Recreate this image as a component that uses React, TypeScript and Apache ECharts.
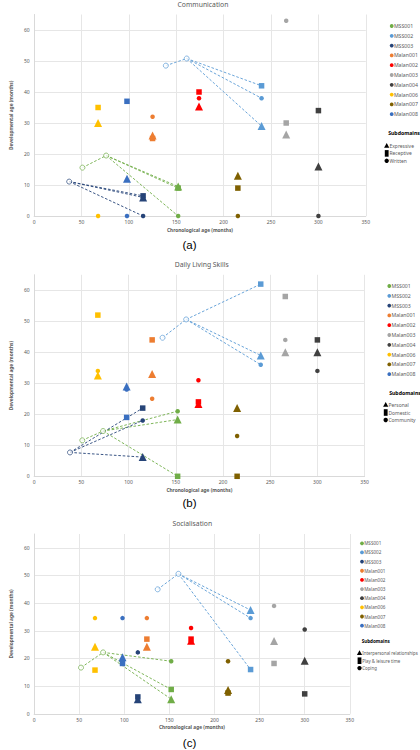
import React, { useEffect, useRef } from 'react';
import * as echarts from 'echarts';

// ---------- data ----------
const participants = ['MSS001', 'MSS002', 'MSS003', 'Malan001', 'Malan002', 'Malan003', 'Malan004', 'Malan006', 'Malan007', 'Malan008'];
const chronoAge = [152, 240, 115, 125, 174, 266, 300, 67.5, 215, 98];

const panelTitles = ['Communication', 'Daily Living Skills', 'Socialisation'];
const panelTags = ['(a)', '(b)', '(c)'];
const subdomainNames = [
  ['Expressive', 'Receptive', 'Written'],
  ['Personal', 'Domestic', 'Community'],
  ['Interpersonal relationships', 'Play & leisure time', 'Coping'],
];

// Communication
const commExpressive = [9.5, 29, 6, 26, 35.3, 26.3, 16, 30, 13, 12];
const commReceptive = [9, 42, 6.5, 25, 40, 30, 34, 35, 9, 37];
const commWritten = [0, 38, 0, 32, 38, 63, 0, 0, 0, 0];

// Daily Living Skills
const dlsPersonal = [18.3, 39, 6.2, 33, 23.3, 40, 40, 32.5, 22, 29];
const dlsDomestic = [0, 62, 22, 44, 24, 58, 44, 52, 0, 19];
const dlsCommunity = [21, 36, 18, 25, 31, 44, 34, 34, 13, 28];

// Socialisation
const socInterpersonal = [5.3, 37.5, 5.3, 24.2, 26.4, 26.3, 19.2, 24.2, 8.6, 20.4];
const socPlay = [8.8, 16, 6.1, 27, 27, 18.2, 7.2, 15.8, 7.5, 18.2];
const socCoping = [19, 34.6, 22.2, 34.6, 31, 39, 30.5, 34.6, 19, 34.6];

// Earlier assessments (open circles) for tracked participants
const trackedParticipants = ['MSS001', 'MSS002', 'MSS003'];
const commPrior = [[[51, 15.6], [76, 19.5]], [[139, 48.5], [161, 50.8]], [[37, 11.1]]];
const dlsPrior = [[[51, 11.6], [73, 14.6]], [[136, 44.7], [161, 50.6]], [[38, 7.7]]];
const socPrior = [[[52, 16.7], [76.5, 22.2]], [[137, 45], [160, 50.6]], []];

const xTicksMax = 350;
const yTicksMax = 65;

// ---------- styling ----------
const participantColors = ['#70AD47', '#5B9BD5', '#264478', '#ED7D31', '#FF0000', '#A5A5A5', '#404040', '#FFC000', '#7F6000', '#3A6FC0'];
const FONT = '"Noto Sans", "Open Sans", sans-serif';
const GRAY = '#595959';

const panelValues = [
  [commExpressive, commReceptive, commWritten],
  [dlsPersonal, dlsDomestic, dlsCommunity],
  [socInterpersonal, socPlay, socCoping],
];
const panelPrior = [commPrior, dlsPrior, socPrior];

const layout = [
  { left: 17.3, top: 14.5, width: 348.5, height: 201.5, titleX: 203, titleY: 4.5, tagX: 189.5, tagY: 245, legX: 391.7, legY: 26, legGap: 9.8, legFont: 5.2, subHeadX: 404, subHeadY: 133, subX: 386.7, subY: 146, subGap: 7.4, yNameGap: 12.4, xNameGap: 11.4 },
  { left: 17.3, top: 274.8, width: 347.3, height: 201.5, titleX: 201.7, titleY: 264, tagX: 189.5, tagY: 503, legX: 389.3, legY: 286, legGap: 9.8, legFont: 5.2, subHeadX: 405, subHeadY: 392.7, subX: 385.7, subY: 405, subGap: 7.5, yNameGap: 12.4, xNameGap: 11.2 },
  { left: 15.3, top: 534, width: 334.5, height: 179.8, titleX: 192.3, titleY: 523, tagX: 189.5, tagY: 743, legX: 362, legY: 543.3, legGap: 9.15, legFont: 4.6, subHeadX: 375.7, subHeadY: 641, subX: 359.5, subY: 653.3, subGap: 7.4, yNameGap: 10.4, xNameGap: 10.6 },
];

const symbolDefs = [
  { symbol: 'triangle', size: 8 },
  { symbol: 'rect', size: 5.5 },
  { symbol: 'circle', size: 4.5 },
];
const drawOrder = [1, 2, 0];

function buildOption() {
  const grid: any[] = [];
  const xAxis: any[] = [];
  const yAxis: any[] = [];
  const series: any[] = [];
  const graphic: any[] = [];

  layout.forEach((L, p) => {
    grid.push({ left: L.left, top: L.top, width: L.width, height: L.height, containLabel: false });
    xAxis.push({
      gridIndex: p, type: 'value', min: 0, max: xTicksMax, interval: 50,
      axisLine: { show: true, onZero: false, lineStyle: { color: '#D9D9D9', width: 1 } },
      axisTick: { show: false },
      axisLabel: { fontSize: 5, color: GRAY, margin: 3.5, fontFamily: FONT },
      splitLine: { show: true, lineStyle: { color: '#E6E6E6', width: 1 } },
      name: 'Chronological age (months)', nameLocation: 'middle', nameGap: L.xNameGap,
      nameTextStyle: { fontSize: 4.8, fontWeight: 'bold', color: GRAY, fontFamily: FONT },
    });
    yAxis.push({
      gridIndex: p, type: 'value', min: 0, max: yTicksMax, interval: 10,
      axisLine: { show: true, lineStyle: { color: '#D9D9D9', width: 1 } },
      axisTick: { show: false },
      axisLabel: { fontSize: 5, color: GRAY, margin: 4.5, showMaxLabel: false, fontFamily: FONT },
      splitLine: { show: true, showMaxLine: false, lineStyle: { color: '#E6E6E6', width: 1 } },
      name: 'Developmental age (months)', nameLocation: 'middle', nameGap: L.yNameGap,
      nameTextStyle: { fontSize: 4.8, fontWeight: 'bold', color: GRAY, fontFamily: FONT },
    });

    // dashed trajectories
    const vals = panelValues[p];
    const prior = panelPrior[p];
    trackedParticipants.forEach((name, t) => {
      const i = participants.indexOf(name);
      const pts = prior[t];
      if (!pts.length) return;
      const color = participantColors[i];
      const segs: number[][][] = [];
      for (let k = 0; k + 1 < pts.length; k++) segs.push([pts[k], pts[k + 1]]);
      const last = pts[pts.length - 1];
      vals.forEach((arr) => segs.push([last, [chronoAge[i], arr[i]]]));
      segs.forEach((seg, s) => {
        series.push({
          name: `${name}-trend-${p}-${s}`, type: 'line', xAxisIndex: p, yAxisIndex: p,
          data: seg, symbol: 'none', silent: true, z: 1,
          lineStyle: { color, width: 1, type: [2.6, 1.8], opacity: 0.9 },
        });
      });
      series.push({
        name: `${name}-prior-${p}`, type: 'scatter', xAxisIndex: p, yAxisIndex: p,
        data: pts, symbol: 'circle', symbolSize: 5, silent: true, z: 3,
        itemStyle: { color: '#FFFFFF', borderColor: color, borderWidth: 0.9 },
      });
    });

    // current assessments
    participants.forEach((name, i) => {
      const data = drawOrder.map((k) => ({
        value: [chronoAge[i], vals[k][i]],
        symbol: symbolDefs[k].symbol,
        symbolSize: symbolDefs[k].size,
      }));
      series.push({
        name, type: 'scatter', xAxisIndex: p, yAxisIndex: p, data, z: 4,
        itemStyle: { color: participantColors[i], opacity: 1 },
        emphasis: { disabled: true },
      });
    });

    // titles & tags
    graphic.push({
      type: 'text', x: L.titleX, y: L.titleY, silent: true,
      style: { text: panelTitles[p], fill: GRAY, font: `6.8px ${FONT}`, align: 'center', verticalAlign: 'middle' },
    });
    graphic.push({
      type: 'text', x: L.tagX, y: L.tagY, silent: true,
      style: { text: panelTags[p], fill: '#000', font: `11.5px "Liberation Sans", Arial, sans-serif`, align: 'center', verticalAlign: 'middle' },
    });

    // participant legend
    participants.forEach((name, i) => {
      const cy = L.legY + i * L.legGap;
      graphic.push({ type: 'circle', silent: true, shape: { cx: L.legX, cy, r: 1.9 }, style: { fill: participantColors[i] } });
      graphic.push({
        type: 'text', x: L.legX + 2.2, y: cy, silent: true,
        style: { text: name, fill: GRAY, font: `${L.legFont}px ${FONT}`, align: 'left', verticalAlign: 'middle' },
      });
    });

    // subdomain legend
    graphic.push({
      type: 'text', x: L.subHeadX, y: L.subHeadY, silent: true,
      style: { text: 'Subdomains', fill: '#000', font: `bold ${L.legFont}px ${FONT}`, align: 'center', verticalAlign: 'middle' },
    });
    subdomainNames[p].forEach((label, k) => {
      const cy = L.subY + k * L.subGap;
      const cx = L.subX;
      if (k === 0) {
        graphic.push({ type: 'polygon', silent: true, shape: { points: [[cx, cy - 3], [cx + 2.6, cy + 1.8], [cx - 2.6, cy + 1.8]] }, style: { fill: '#000' } });
      } else if (k === 1) {
        graphic.push({ type: 'rect', silent: true, shape: { x: cx - 1.9, y: cy - 3.3, width: 3.8, height: 6.6 }, style: { fill: '#000' } });
      } else {
        graphic.push({ type: 'circle', silent: true, shape: { cx, cy, r: 2.2 }, style: { fill: '#000' } });
      }
      graphic.push({
        type: 'text', x: cx + 2.8, y: cy, silent: true,
        style: { text: label, fill: GRAY, font: `${L.legFont * 0.95}px ${FONT}`, align: 'left', verticalAlign: 'middle' },
      });
    });
  });

  return {
    animation: false,
    backgroundColor: '#FFFFFF',
    textStyle: { fontFamily: FONT },
    grid, xAxis, yAxis, series, graphic,
  };
}

export default function App() {
  const ref = useRef<HTMLDivElement>(null);
  useEffect(() => {
    if (!ref.current) return;
    const chart = echarts.init(ref.current, undefined, { renderer: 'svg' });
    chart.setOption(buildOption() as any);
    return () => chart.dispose();
  }, []);
  return (
    <div
      ref={ref}
      style={{ position: 'absolute', left: 0, top: 0, width: 420, height: 750, background: '#fff' }}
    />
  );
}
